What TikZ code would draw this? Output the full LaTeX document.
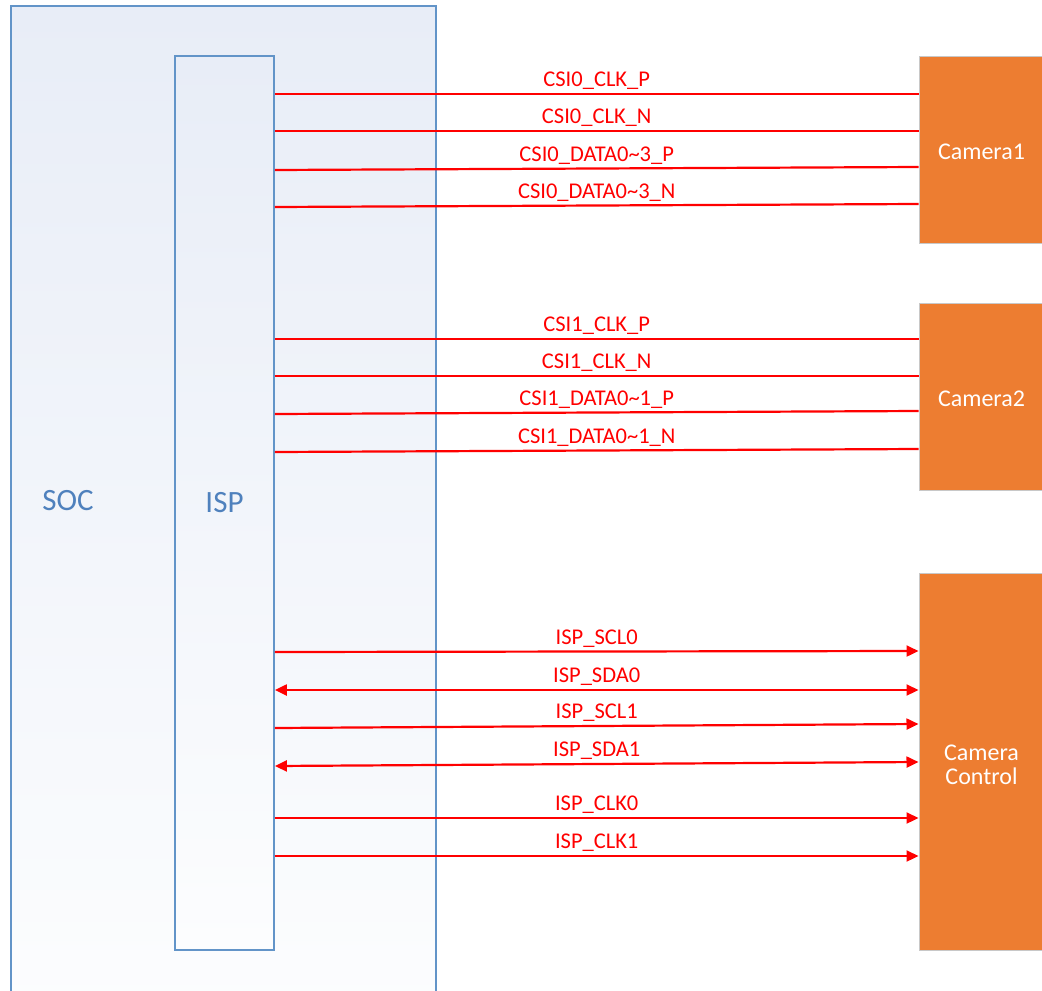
\documentclass[tikz,border=0pt]{standalone}
\usepackage{fontspec}
\setmainfont{Carlito}
\usetikzlibrary{arrows.meta}
\definecolor{socblue}{RGB}{98,148,200}
\definecolor{soctext}{RGB}{79,129,189}
\definecolor{camorange}{RGB}{237,125,49}
\definecolor{camedge}{RGB}{200,200,200}
\definecolor{wirered}{RGB}{255,0,0}
\definecolor{socfilltop}{RGB}{232,237,247}
\definecolor{socfillbot}{RGB}{252,253,254}
\tikzset{
  chipbox/.style={draw=socblue, line width=1.8pt, rectangle, inner sep=0pt, top color=socfilltop, bottom color=socfillbot},
  chiptext/.style={text=soctext, font=\fontsize{31}{34}\selectfont},
  cambox/.style={draw=camedge, line width=1pt, fill=camorange, rectangle, inner sep=0pt, text=white, align=center, text height=21pt, font=\fontsize{24}{24}\selectfont},
  wire/.style={draw=wirered, line width=2.2pt},
  lbl/.style={text=wirered, font=\fontsize{22.5}{24}\selectfont, anchor=base, yshift=7.5pt, inner sep=0pt},
  tip/.tip={Triangle[length=12pt,width=11pt]}
}
\newcommand\wire[5]{%
  \draw[wire,#5] (isp.east |- 0,#1) -- node[lbl]{#4} (#2.west |- 0,#3);}
\begin{document}
\begin{tikzpicture}[x=1pt,y=-1pt]
\useasboundingbox (0,0) rectangle (1042,991);
\clip (0,0) rectangle (1042,991);
% SOC
\node[chipbox, minimum width=425pt, minimum height=1010pt] (soc) at (223.5,511) {};
\node[chiptext, anchor=base] (soclbl) at (68,510) {SOC};
% ISP
\node[chipbox, minimum width=99pt, minimum height=894pt, chiptext] (isp) at (224.5,503) {ISP};
% Cameras
\node[cambox, minimum width=125pt, minimum height=187pt] (cam1) at (981.5,149.5) {Camera1};
\node[cambox, minimum width=125pt, minimum height=187pt] (cam2) at (981.5,396.5) {Camera2};
\node[cambox, minimum width=125pt, minimum height=377pt, text height=45pt, text depth=0pt] (camctl) at (981.5,761.5) {Camera\\Control};
% CSI0
\wire{94}{cam1}{94}{CSI0\_CLK\_P}{}
\wire{131}{cam1}{131}{CSI0\_CLK\_N}{}
\wire{170}{cam1}{167}{CSI0\_DATA0\textasciitilde3\_P}{}
\wire{207}{cam1}{204}{CSI0\_DATA0\textasciitilde3\_N}{}
% CSI1
\wire{339}{cam2}{339}{CSI1\_CLK\_P}{}
\wire{376}{cam2}{376}{CSI1\_CLK\_N}{}
\wire{414}{cam2}{411}{CSI1\_DATA0\textasciitilde1\_P}{}
\wire{452}{cam2}{449}{CSI1\_DATA0\textasciitilde1\_N}{}
% control
\wire{652}{camctl}{651}{ISP\_SCL0}{-tip}
\wire{690}{camctl}{690}{ISP\_SDA0}{tip-tip}
\wire{728}{camctl}{724}{ISP\_SCL1}{-tip}
\wire{766}{camctl}{762}{ISP\_SDA1}{tip-tip}
\wire{818}{camctl}{818}{ISP\_CLK0}{-tip}
\wire{856}{camctl}{856}{ISP\_CLK1}{-tip}
\end{tikzpicture}
\end{document}
